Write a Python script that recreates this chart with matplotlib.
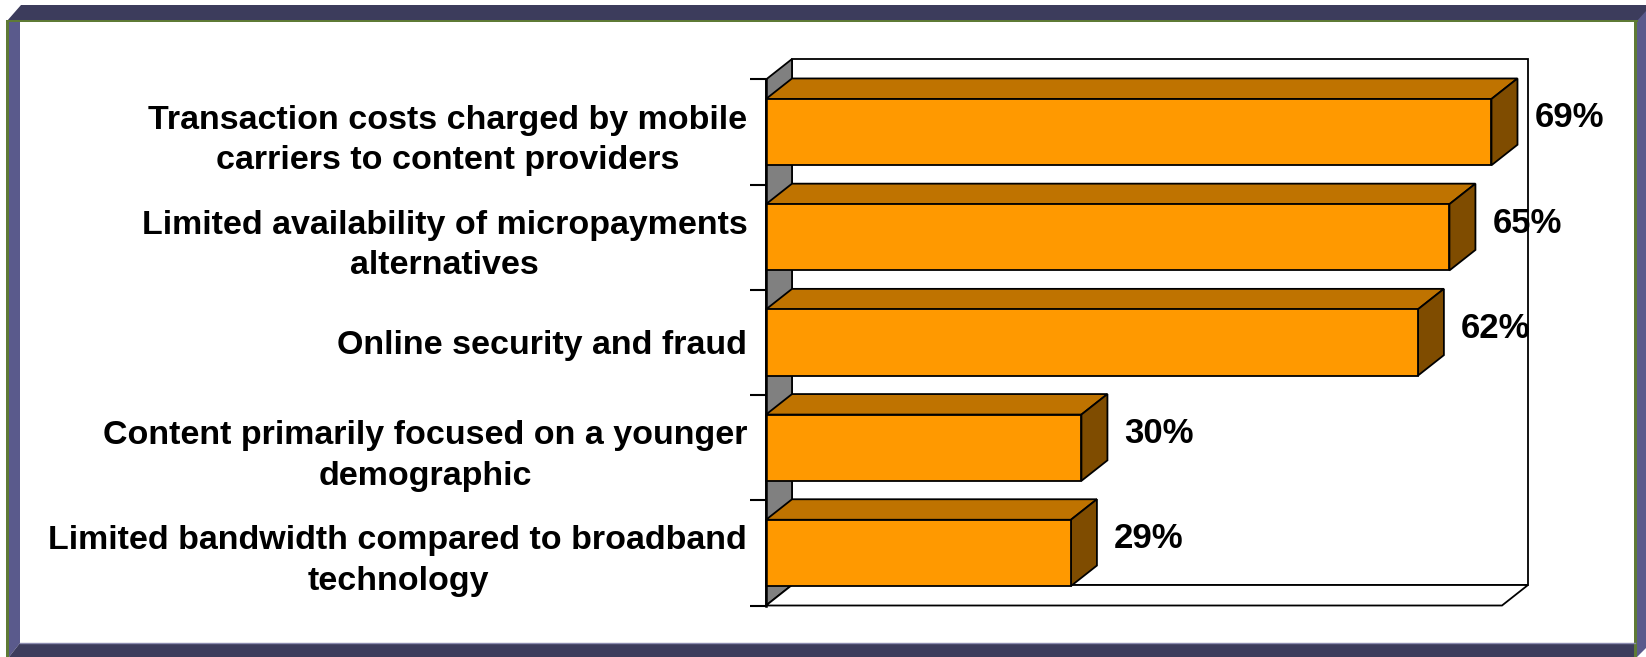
import numpy as np
import matplotlib
matplotlib.use("Agg")
import matplotlib.pyplot as plt
from matplotlib.patches import Polygon, Rectangle

plt.rcParams['font.family'] = ['Liberation Sans', 'DejaVu Sans']

# survey results, top bar first
labels = ["Transaction costs charged by mobile\ncarriers to content providers",
          "Limited availability of micropayments\nalternatives",
          "Online security and fraud",
          "Content primarily focused on a younger\ndemographic",
          "Limited bandwidth compared to broadband\ntechnology"]
values = [0.69, 0.65, 0.62, 0.30, 0.29]
value_text = ["69%", "65%", "62%", "30%", "29%"]

W, H = 1646, 657
XMAX = 0.7
fig = plt.figure(figsize=(W / 100, H / 100), dpi=100)

# --- frame around the chart (pixel coords) ---
bg = fig.add_axes([0, 0, 1, 1])
bg.set_xlim(0, W)
bg.set_ylim(H, 0)
bg.axis("off")
navy = "#3c3c5c"
purple = "#5a5a8c"
green = "#5e7a35"
bg.add_patch(Polygon([(7, 21), (21, 5), (W, 5), (W, 21)], color=navy, lw=0))
bg.add_patch(Polygon([(9, 21), (20, 21), (20, 643), (9, 657)], color=purple, lw=0))
bg.add_patch(Polygon([(9, 657), (20, 643), (1635, 643), (1635, 657)], color=navy, lw=0))
bg.add_patch(Polygon([(1637, 21), (W, 11), (W, 648), (1637, 657)], color=purple, lw=0))
bg.add_patch(Rectangle((6, 19.5), 1632, 2.5, color=green, lw=0))
bg.add_patch(Rectangle((6, 19.5), 3, 637.5, color=green, lw=0))
bg.add_patch(Rectangle((1634.5, 19.5), 3, 637.5, color=green, lw=0))
bg.plot([20, 1635], [643, 643], color="#8c8cb0", lw=1)

# --- chart area (front plane of the 3d box) ---
x0, x1, y0, y1 = 766, 1502, 79.5, 605.5
ax = fig.add_axes([x0 / W, (H - y1) / H, (x1 - x0) / W, (y1 - y0) / H])
n = len(values)
ax.set_xlim(0, XMAX)
ax.set_ylim(n - 0.5, -0.5)
ax.patch.set_visible(False)

# depth of the 3d effect in data units
DX = 26 * XMAX / (x1 - x0)
DY = 20.5 * n / (y1 - y0)

lw = 1.3
wall_kw = dict(ec="black", lw=lw, clip_on=False, joinstyle="miter")
ax.add_patch(Polygon([(DX, -0.5 - DY), (XMAX + DX, -0.5 - DY),
                      (XMAX + DX, n - 0.5 - DY), (DX, n - 0.5 - DY)], fc="white", **wall_kw))
ax.add_patch(Polygon([(0, -0.5), (DX, -0.5 - DY), (DX, n - 0.5 - DY), (0, n - 0.5)],
                     fc="#808080", **wall_kw))
ax.add_patch(Polygon([(0, n - 0.5), (XMAX, n - 0.5), (XMAX + DX, n - 0.5 - DY),
                      (DX, n - 0.5 - DY)], fc="white", **wall_kw))

bh = 0.63
for i, v in enumerate(values):
    top, bot = i - bh / 2, i + bh / 2
    ax.add_patch(Polygon([(0, top), (v, top), (v + DX, top - DY), (DX, top - DY)],
                         fc="#bf7300", **wall_kw))
    ax.add_patch(Polygon([(v, top), (v + DX, top - DY), (v + DX, bot - DY), (v, bot)],
                         fc="#7f4c00", **wall_kw))
    ax.add_patch(Rectangle((0, top), v, bh, fc="#ff9900", **wall_kw))
    ax.annotate(value_text[i], xy=(v + DX, i - DY / 2), xytext=(17, 4),
                textcoords="offset pixels", ha="left", va="center",
                fontsize=25, fontweight="bold", annotation_clip=False)

for s in ["top", "right", "bottom"]:
    ax.spines[s].set_visible(False)
ax.spines["left"].set_linewidth(1.8)
ax.set_xticks([])
ax.set_yticks(np.arange(n))
ax.set_yticks(np.arange(n + 1) - 0.5, minor=True)
ax.set_yticklabels(labels, fontsize=24.5, fontweight="bold")
ax.tick_params(axis="y", which="major", length=0, pad=13.5)
ax.tick_params(axis="y", which="minor", length=11.5, width=1.5, direction="out")
for t in ax.get_yticklabels():
    t.set_multialignment("center")
    t.set_linespacing(1.4)

fig.savefig("out.png", dpi=100)
